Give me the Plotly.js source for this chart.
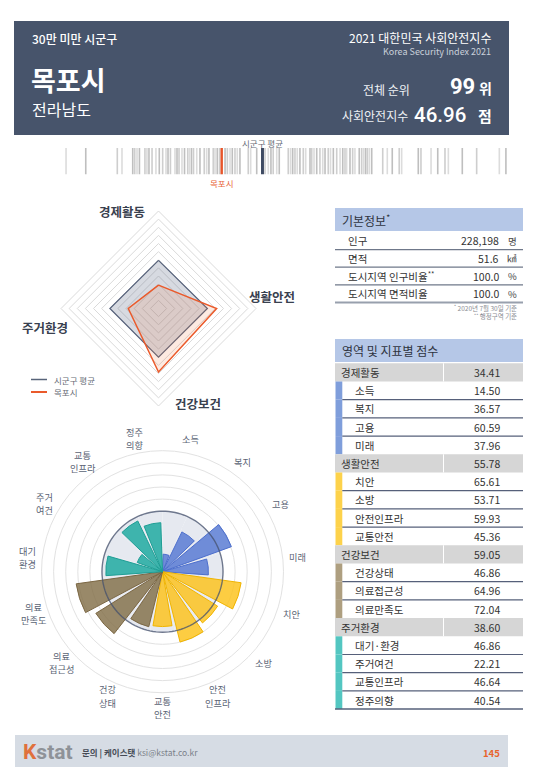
<!DOCTYPE html>
<html><head><meta charset="utf-8">
<script src="https://cdn.plot.ly/plotly-3.0.1.min.js"></script>
<style>html,body{margin:0;padding:0;background:#fff;}#page{width:540px;height:780px;}</style>
</head><body><div id="page"></div>
<script>
// ---------- data ----------
const headerGroup = '30만 미만 시군구';
const regionName = '목포시';
const province = '전라남도';
const indexTitle = '2021 대한민국 사회안전지수';
const indexSub = 'Korea Security Index 2021';
const overallRank = 99;
const overallScore = 46.96;

const domainNames = ['경제활동', '생활안전', '건강보건', '주거환경'];
const domainScores = [34.41, 55.78, 59.05, 38.60];
const domainAvg = [49.6, 50.1, 49.9, 49.9];

const indicatorNames = ['소득', '복지', '고용', '미래', '치안', '소방', '안전인프라', '교통안전', '건강상태', '의료접근성', '의료만족도', '대기·환경', '주거여건', '교통인프라', '정주의향'];
const indicatorScores = [14.50, 36.57, 60.59, 37.96, 65.61, 53.71, 59.93, 45.36, 46.86, 64.96, 72.04, 46.86, 22.21, 46.64, 40.54];
const indicatorGroup = [0, 0, 0, 0, 1, 1, 1, 1, 2, 2, 2, 3, 3, 3, 3];
const polarLabels = [['소득'], ['복지'], ['고용'], ['미래'], ['치안'], ['소방'], ['안전', '인프라'], ['교통', '안전'], ['건강', '상태'], ['의료', '접근성'], ['의료', '만족도'], ['대기', '환경'], ['주거', '여건'], ['교통', '인프라'], ['정주', '의향']];
const avgRing = 50;

const infoLabels = ['인구', '면적', '도시지역 인구비율<sup>**</sup>', '도시지역 면적비율'];
const infoValues = ['228,198', '51.6', '100.0', '100.0'];
const infoUnits = ['명', '㎢', '%', '%'];
const infoNotes = ['<sup>*</sup> 2020년 7월 30일 기준', '<sup>**</sup> 행정구역 기준'];

const districtScores = [35.36, 36.83, 39.18, 39.53, 40.33, 40.48, 40.65, 40.83, 41.24, 41.39, 41.54, 41.77, 42.06, 42.31, 42.56, 42.81, 42.96, 43.14, 43.48, 43.63, 43.78, 44.00, 44.19, 44.43, 44.56, 44.71, 44.86, 45.10, 45.34, 45.66, 45.84, 46.01, 46.33, 46.46, 46.63, 46.80, 46.96, 47.21, 47.38, 47.58, 47.75, 47.95, 48.12, 48.32, 48.94, 49.12, 49.57, 50.19, 50.43, 50.63, 50.80, 51.06, 51.25, 51.92, 52.09, 52.25, 52.42, 52.59, 52.79, 53.04, 53.22, 53.54, 53.67, 53.84, 54.04, 54.28, 54.49, 54.66, 54.90, 55.07, 55.28, 55.53, 55.78, 55.98, 56.15, 56.27, 56.52, 56.72, 56.89, 57.21, 57.39, 57.53, 57.68, 57.81, 57.96, 58.14, 58.96, 59.30, 59.67, 60.19, 60.37, 61.61, 61.81, 62.56, 63.06, 63.60, 63.85, 64.89, 65.96, 67.65, 68.14];
const districtAvg = 50.00;

const footerContact = '<b>문의 | 케이스탯</b> <span style="color:#7a7f88">ksi@kstat.co.kr</span>';
const pageNumber = '145';

// ---------- helpers ----------
const W = 540, H = 780;
const X = p => p / W;
const Y = p => 1 - p / H;
const FONT = '"Noto Sans CJK KR", "Noto Sans", sans-serif';
const annotations = [];
const shapes = [];
function txt(x, y, text, size, color, anchor, extra) {
  annotations.push(Object.assign({
    x: X(x), y: Y(y), xref: 'paper', yref: 'paper', text: text, showarrow: false,
    xanchor: anchor || 'left', yanchor: 'middle', borderpad: 0,
    font: { family: FONT, size: size, color: color }
  }, extra || {}));
}
function rect(x0, y0, x1, y1, fill, layer) {
  shapes.push({ type: 'rect', xref: 'paper', yref: 'paper', x0: X(x0), x1: X(x1), y0: Y(y1), y1: Y(y0),
    fillcolor: fill, line: { width: 0 }, layer: layer || 'below' });
}
function hline(x0, x1, y, color, w) {
  shapes.push({ type: 'line', xref: 'paper', yref: 'paper', x0: X(x0), x1: X(x1), y0: Y(y), y1: Y(y),
    line: { color: color, width: w } });
}

// ---------- header ----------
rect(14, 21, 509, 135, '#47546b');
txt(31, 38, headerGroup, 12, '#ffffff', 'left', { font: { family: FONT, size: 12, color: '#fff', weight: 500 } });
txt(30, 80, regionName, 27, '#ffffff', 'left', { font: { family: FONT, size: 27, color: '#fff', weight: 'bold' } });
txt(31, 109, province, 16, '#ffffff');
txt(492, 37, indexTitle, 12, '#ffffff', 'right');
txt(492, 51.5, indexSub, 9, '#c9d0da', 'right');
txt(411, 89, '전체 순위', 12, '#eef1f5', 'right');
txt(476, 86.5, String(overallRank), 22, '#fff', 'right', { font: { family: 'Roboto, sans-serif', size: 22, color: '#fff', weight: 'bold' } });
txt(492.5, 87.5, '위', 14, '#fff', 'right', { font: { family: FONT, size: 14, color: '#fff', weight: 'bold' } });
txt(409, 115, '사회안전지수', 12, '#eef1f5', 'right');
txt(467, 114.5, overallScore.toFixed(2), 20, '#fff', 'right', { font: { family: 'Roboto, sans-serif', size: 20.5, color: '#fff', weight: 500 } });
txt(492.5, 115.5, '점', 15, '#fff', 'right', { font: { family: FONT, size: 15, color: '#fff', weight: 'bold' } });

// ---------- barcode ----------
const barcodeTrace = {
  type: 'bar', x: districtScores, y: districtScores.map(() => 1), width: 0.12,
  marker: { color: districtScores.map((v, i) => (i % 3 === 0 ? '#dcdcdc' : (i % 3 === 1 ? '#bfbfbf' : '#cecece'))), line: { width: 0 } },
  xaxis: 'x', yaxis: 'y', hoverinfo: 'skip', showlegend: false
};
const avgTrace = { type: 'bar', x: [districtAvg], y: [1], width: 0.22, marker: { color: '#3e4a62' }, xaxis: 'x', yaxis: 'y', showlegend: false, hoverinfo: 'skip' };
const selfTrace = { type: 'bar', x: [overallScore], y: [1], width: 0.18, marker: { color: '#e8552a' }, xaxis: 'x', yaxis: 'y', showlegend: false, hoverinfo: 'skip' };
annotations.push({ x: districtAvg, xref: 'x', y: Y(142.5), yref: 'paper', text: '시군구 평균', showarrow: false, xanchor: 'center', yanchor: 'middle', borderpad: 0, font: { family: FONT, size: 8.5, color: '#666b75' } });
annotations.push({ x: overallScore, xref: 'x', y: Y(183), yref: 'paper', text: regionName, showarrow: false, xanchor: 'center', yanchor: 'middle', borderpad: 0, font: { family: FONT, size: 8.5, color: '#e8643a' } });

// ---------- radar ----------
const radarTheta = domainNames.concat([domainNames[0]]);
const radarAvg = {
  type: 'scatterpolar', subplot: 'polar', r: domainAvg.concat([domainAvg[0]]), theta: radarTheta,
  mode: 'lines', fill: 'toself', fillcolor: 'rgba(72,88,118,0.22)', line: { color: '#55617a', width: 1.2 },
  showlegend: false, hoverinfo: 'skip'
};
const radarSelf = {
  type: 'scatterpolar', subplot: 'polar', r: domainScores.concat([domainScores[0]]), theta: radarTheta,
  mode: 'lines', fill: 'toself', fillcolor: 'rgba(246,128,76,0.17)', line: { color: '#ea5a2b', width: 1.5 },
  showlegend: false, hoverinfo: 'skip'
};
const radarLabelPos = [[122, 212], [272, 296], [198, 403], [45, 327]];
domainNames.forEach((n, i) => txt(radarLabelPos[i][0], radarLabelPos[i][1], n, 12.5, '#39414f', 'center', { font: { family: FONT, size: 12.5, color: '#39414f', weight: 'bold' } }));
// legend
hline(31, 47, 379.5, '#58647a', 1.5);
hline(31, 47, 392, '#ea5a2b', 2);
txt(53, 379.5, '시군구 평균', 8.5, '#666b75');
txt(53, 392, regionName, 8.5, '#666b75');

// ---------- polar bars ----------
const groupFill = ['rgba(84,119,210,0.82)', 'rgba(253,194,24,0.82)', 'rgba(128,107,68,0.8)', 'rgba(24,168,158,0.82)'];
const groupLine = ['#4d6fcc', '#f0b400', '#7b6744', '#1f9e95'];
const step = 360 / indicatorNames.length;
const thetaDeg = indicatorNames.map((n, i) => step / 2 + step * i);
const discBars = {
  type: 'barpolar', subplot: 'polar2', r: indicatorNames.map(() => avgRing), theta: thetaDeg, width: indicatorNames.map(() => step),
  marker: { color: '#e6e9f0', line: { width: 0 } }, showlegend: false, hoverinfo: 'skip'
};
const polarBars = {
  type: 'barpolar', subplot: 'polar2', r: indicatorScores, theta: thetaDeg, width: indicatorNames.map(() => 20),
  marker: { color: indicatorGroup.map(g => groupFill[g]), line: { color: indicatorGroup.map(g => groupLine[g]), width: 1 } },
  showlegend: false, hoverinfo: 'skip'
};
const ringTheta = [];
for (let a = 0; a <= 360; a += 3) ringTheta.push(a);
const avgCircle = {
  type: 'scatterpolar', subplot: 'polar2', r: ringTheta.map(() => avgRing), theta: ringTheta,
  mode: 'lines', line: { color: 'rgba(70,82,110,0.75)', width: 1.4 }, showlegend: false, hoverinfo: 'skip'
};
const pcx = 162.5, pcy = 571.7, pR = 121, labR = 136, lineGap = 13.3;
polarLabels.forEach((lines, i) => {
  const a = thetaDeg[i] * Math.PI / 180;
  const cx = pcx + labR * Math.sin(a), cy = pcy - labR * Math.cos(a);
  lines.forEach((ln, k) => {
    txt(cx, cy + (k - (lines.length - 1) / 2) * lineGap, ln, 9.2, '#5a6374', 'center');
  });
});

// ---------- info table ----------
rect(335, 208, 523, 231, '#b5c7e7');
txt(341, 219.5, '기본정보<sup>*</sup>', 12, '#2f3440');
const infoTop = 232, infoRow = 17.6;
infoLabels.forEach((lab, i) => {
  const cy = infoTop + infoRow * i + infoRow / 2;
  txt(347, cy, lab, 10.5, '#333');
  txt(500, cy, infoValues[i], 10.5, '#333', 'right');
  txt(512, cy, infoUnits[i], 9.5, '#444', 'center');
  hline(335, 523, infoTop + infoRow * (i + 1), i === infoLabels.length - 1 ? '#98a0ad' : '#6f788a', i === infoLabels.length - 1 ? 2 : 1.3);
});
txt(518, 312, infoNotes.join('<br>'), 6.5, '#8a8d93', 'right', { align: 'right' });

// ---------- score table ----------
rect(335, 339, 523, 362, '#b5c7e7');
txt(341, 350.5, '영역 및 지표별 점수', 12, '#2f3440');
const tColor = ['#7f9edb', '#fdd24b', '#ae9f80', '#53c6c1'];
const tTop = 363.3, tRow = 18.2;
let row = 0;
domainNames.forEach((d, g) => {
  const y0 = tTop + row * tRow;
  rect(335, y0, 523, y0 + tRow, '#d6d6d6');
  shapes.push({ type: 'line', xref: 'paper', yref: 'paper', x0: X(443.5), x1: X(443.5), y0: Y(y0), y1: Y(y0 + tRow), line: { color: '#ffffff', width: 1 } });
  txt(340, y0 + tRow / 2, d, 10.5, '#333');
  txt(486.5, y0 + tRow / 2, domainScores[g].toFixed(2), 10.5, '#333', 'center');
  row++;
  const idx = indicatorGroup.map((gg, i) => gg === g ? i : -1).filter(i => i >= 0);
  idx.forEach((i, k) => {
    const r0 = tTop + row * tRow;
    rect(335.5, r0, 342.3, r0 + tRow, tColor[g]);
    txt(354, r0 + tRow / 2, indicatorNames[i], 10.5, '#333');
    txt(486.5, r0 + tRow / 2, indicatorScores[i].toFixed(2), 10.5, '#333', 'center');
    if (k < idx.length - 1) hline(342.3, 523, r0 + tRow, '#56607a', 1.2);
    row++;
  });
});
hline(335, 523, tTop + row * tRow, '#56607a', 1.5);

// ---------- footer ----------
rect(15, 735, 508, 767, '#d6dce4');
txt(22, 751.5, '<span style="color:#e0703c">K</span>stat', 21, '#8e9298', 'left', { font: { family: 'Roboto, sans-serif', size: 21, color: '#8e9298', weight: 'bold' } });
txt(81, 752.5, footerContact, 8.5, '#444a55');
txt(501, 752.5, pageNumber, 9.5, '#e8642c', 'right', { font: { family: FONT, size: 9.5, color: '#e8642c', weight: 'bold' } });

// ---------- layout ----------
const layout = {
  width: W, height: H, margin: { l: 0, r: 0, t: 0, b: 0 }, paper_bgcolor: '#ffffff', plot_bgcolor: 'rgba(0,0,0,0)',
  showlegend: false, hovermode: false, barmode: 'overlay',
  xaxis: { domain: [X(40), X(520)], range: [33.42, 69.19], visible: false, fixedrange: true },
  yaxis: { domain: [Y(174.5), Y(148)], range: [0, 1], visible: false, fixedrange: true },
  polar: {
    domain: { x: [X(61), X(256)], y: [Y(406), Y(211)] },
    bgcolor: 'rgba(0,0,0,0)', gridshape: 'linear',
    radialaxis: { range: [20, 80], dtick: 5, showticklabels: false, ticks: '', showline: false, gridcolor: '#dadada', gridwidth: 1 },
    angularaxis: { direction: 'clockwise', rotation: 90, showticklabels: false, ticks: '', showgrid: false, showline: true, linecolor: '#dadada', linewidth: 1 }
  },
  polar2: {
    domain: { x: [X(pcx - pR), X(pcx + pR)], y: [Y(pcy + pR), Y(pcy - pR)] },
    bgcolor: 'rgba(0,0,0,0)', barmode: 'overlay',
    radialaxis: { range: [0, 100], dtick: 10, showticklabels: false, ticks: '', showline: false, gridcolor: '#e2e2e2', gridwidth: 1, layer: 'above traces' },
    angularaxis: { type: 'linear', thetaunit: 'degrees', direction: 'clockwise', rotation: 90, showticklabels: false, ticks: '', showgrid: false, showline: true, linecolor: '#e2e2e2', linewidth: 1 }
  },
  shapes: shapes, annotations: annotations
};

Plotly.newPlot('page', [barcodeTrace, selfTrace, avgTrace, radarAvg, radarSelf, discBars, polarBars, avgCircle], layout, { staticPlot: true, displayModeBar: false });
</script>
</body></html>
